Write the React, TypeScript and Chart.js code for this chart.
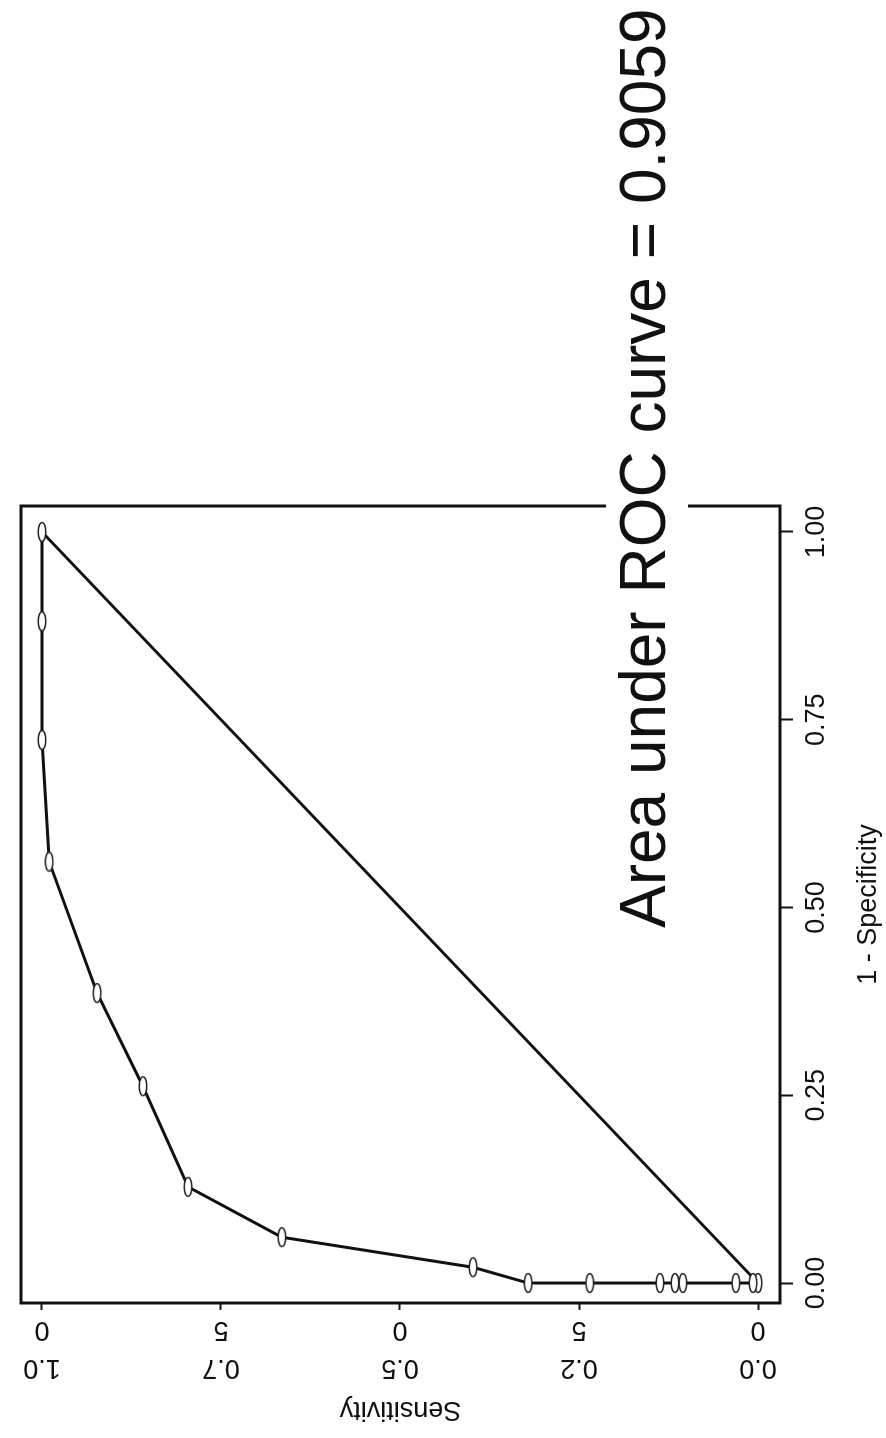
import React, { useEffect, useRef } from "react";
import { Chart, registerables } from "chart.js";

Chart.register(...registerables);

// ROC curve points: x = 1 - specificity, y = sensitivity
const rocFpr = [0, 0, 0, 0, 0, 0, 0, 0, 0.021, 0.061, 0.128, 0.262, 0.386, 0.561, 0.723, 0.881, 1.0];
const rocSens = [0, 0.007, 0.031, 0.105, 0.116, 0.137, 0.235, 0.321, 0.398, 0.665, 0.796, 0.859, 0.923, 0.99, 1.0, 1.0, 1.0];

// Reference (chance) line
const refFpr = [0, 1];
const refSens = [0, 1];

const xTickValues = [0, 0.25, 0.5, 0.75, 1];
const xTickLabels = ["0.00", "0.25", "0.50", "0.75", "1.00"];
const yTickValues = [0, 0.25, 0.5, 0.75, 1];
const yTickLabels = [["0.0", "0"], ["0.2", "5"], ["0.5", "0"], ["0.7", "5"], ["1.0", "0"]];

const xTitle = "1 - Specificity";
const yTitle = "Sensitivity";
const chartTitle = "Area under ROC curve = 0.9059";

const FONT = '"Liberation Sans", Arial, sans-serif';
const INK = "#111111";

const W = 1438; // chart width before rotation (page height)
const H = 886; // chart height before rotation (page width)

function makeMarker(): HTMLCanvasElement {
  const c = document.createElement("canvas");
  c.width = 22;
  c.height = 10;
  const g = c.getContext("2d")!;
  g.beginPath();
  g.ellipse(11, 5, 9.5, 3.8, 0, 0, Math.PI * 2);
  g.fillStyle = "#ffffff";
  g.fill();
  g.lineWidth = 1.5;
  g.strokeStyle = "#222222";
  g.stroke();
  return c;
}

const frameTitlePlugin = {
  id: "frameTitle",
  afterDraw(chart: any) {
    const { ctx, chartArea: a } = chart;
    ctx.save();
    ctx.strokeStyle = INK;
    ctx.lineWidth = 3;
    ctx.strokeRect(a.left, a.top, a.right - a.left, a.bottom - a.top);

    ctx.font = `64px ${FONT}`;
    ctx.textAlign = "left";
    ctx.textBaseline = "alphabetic";
    const tx = 510;
    const ty = 665;
    const w = ctx.measureText(chartTitle).width;
    ctx.fillStyle = "#ffffff";
    ctx.fillRect(tx - 6, 606, w + 12, 82);
    ctx.fillStyle = INK;
    ctx.fillText(chartTitle, tx, ty);
    ctx.restore();
  },
};

export default function App() {
  const canvasRef = useRef<HTMLCanvasElement | null>(null);

  useEffect(() => {
    if (!canvasRef.current) return;
    const marker = makeMarker();
    const rocData = rocFpr.map((x, i) => ({ x, y: rocSens[i] }));
    const refData = refFpr.map((x, i) => ({ x, y: refSens[i] }));

    const chart = new Chart(canvasRef.current, {
      type: "line",
      data: {
        datasets: [
          {
            data: rocData,
            borderColor: INK,
            borderWidth: 3,
            tension: 0,
            pointStyle: marker as any,
            pointRadius: 6,
            fill: false,
          },
          {
            data: refData,
            borderColor: INK,
            borderWidth: 3,
            tension: 0,
            pointRadius: 0,
            fill: false,
          },
        ],
      },
      plugins: [frameTitlePlugin],
      options: {
        responsive: false,
        animation: false,
        events: [],
        layout: { padding: { left: 0, top: 21, right: W - 932, bottom: 0 } },
        plugins: { legend: { display: false }, tooltip: { enabled: false }, title: { display: false } },
        scales: {
          x: {
            type: "linear",
            position: "bottom",
            min: -0.0266,
            max: 1.0346,
            border: { display: false },
            grid: { drawOnChartArea: false, drawTicks: true, tickLength: 13, tickWidth: 2, tickColor: INK },
            afterBuildTicks: (s: any) => {
              s.ticks = xTickValues.map((v) => ({ value: v }));
            },
            afterFit: (s: any) => {
              s.height = H - 780;
              s.paddingLeft = 0;
              s.paddingRight = 0;
            },
            ticks: {
              color: INK,
              font: { family: FONT, size: 27 },
              padding: 7,
              maxRotation: 0,
              minRotation: 0,
              callback: (_v: any, i: number) => xTickLabels[i],
            },
            title: {
              display: true,
              text: xTitle,
              color: INK,
              font: { family: FONT, size: 27 },
              padding: { top: 0, bottom: 1 },
            },
          },
          y: {
            type: "linear",
            position: "left",
            min: -0.0307,
            max: 1.0293,
            border: { display: false },
            grid: { drawOnChartArea: false, drawTicks: true, tickLength: 7, tickWidth: 2, tickColor: INK },
            afterBuildTicks: (s: any) => {
              s.ticks = yTickValues.map((v) => ({ value: v }));
            },
            afterCalculateLabelRotation: (s: any) => {
              s.labelRotation = 90;
            },
            afterFit: (s: any) => {
              s.width = 135;
              s.paddingTop = 0;
              s.paddingBottom = 0;
            },
            ticks: {
              color: INK,
              font: { family: FONT, size: 27, lineHeight: 1.42 },
              padding: 20,
              minRotation: 90,
              maxRotation: 90,
              crossAlign: "center",
              callback: (_v: any, i: number) => yTickLabels[i],
            },
            title: {
              display: true,
              text: yTitle,
              color: INK,
              font: { family: FONT, size: 27 },
              padding: { top: 12, bottom: 0 },
            },
          },
        },
      } as any,
    });
    return () => chart.destroy();
  }, []);

  return (
    <div style={{ position: "absolute", left: 0, top: 0, width: H, height: W, overflow: "hidden", background: "#fff" }}>
      <div
        style={{
          position: "absolute",
          left: 0,
          top: 0,
          width: W,
          height: H,
          transformOrigin: "0 0",
          transform: `translate(0px, ${W}px) rotate(-90deg)`,
        }}
      >
        <canvas ref={canvasRef} width={W} height={H} style={{ display: "block" }} />
      </div>
    </div>
  );
}
